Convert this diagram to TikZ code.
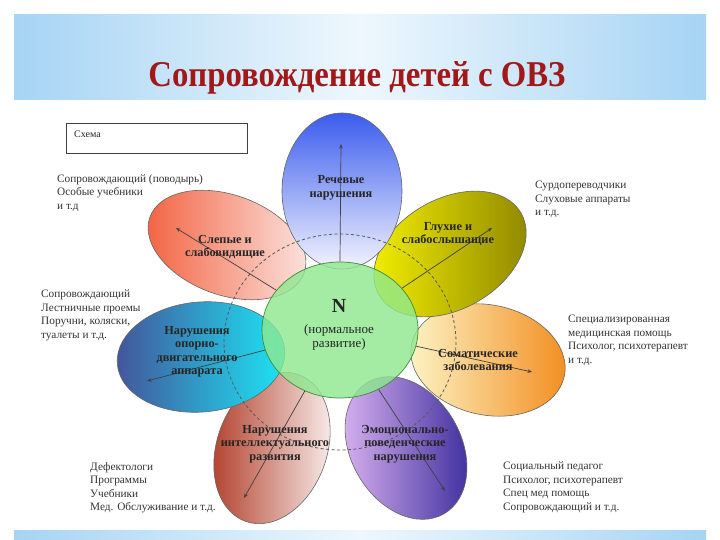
\documentclass[tikz,border=0pt]{standalone}
\usepackage{fontspec}
\setmainfont{Liberation Serif}
\usepackage{graphicx}
\usetikzlibrary{arrows.meta,shapes.geometric}
\definecolor{bannerEdge}{HTML}{A6D4F4}
\definecolor{bannerMid}{HTML}{EEF7FD}
\definecolor{titleRed}{HTML}{A01818}
\definecolor{redA}{HTML}{F2603E}
\definecolor{redB}{HTML}{FCE6E2}
\definecolor{blueA}{HTML}{3A5CEE}
\definecolor{blueB}{HTML}{F4F4FE}
\definecolor{yelA}{HTML}{F6F200}
\definecolor{yelB}{HTML}{8C8400}
\definecolor{orA}{HTML}{FDF6C8}
\definecolor{orB}{HTML}{F28C1E}
\definecolor{purA}{HTML}{DDB4F2}
\definecolor{purB}{HTML}{3A2C9C}
\definecolor{brA}{HTML}{FBF4F2}
\definecolor{brB}{HTML}{B03A26}
\definecolor{cyA}{HTML}{44549A}
\definecolor{cyB}{HTML}{1CE6F6}
\definecolor{grnF}{HTML}{8EE88E}
\definecolor{grnD}{HTML}{3C8C3C}
\begin{document}
\begin{tikzpicture}[x=1pt,y=-1pt,
  petal/.style={draw=black!60, line width=0.6pt},
  lbl/.style={font=\bfseries\fontsize{12.3}{13.5}\selectfont, align=center, text=black!85, inner sep=0pt},
  side/.style={font=\fontsize{11.3}{13.5}\selectfont, align=left, anchor=north west, text=black!80, inner sep=0pt},
  arr/.style={draw=black!75, line width=0.7pt, -{Stealth[length=4.5pt,width=3.5pt]}},
  dashring/.style={draw=black!65, line width=0.8pt, dash pattern=on 3pt off 2.5pt}
]
\useasboundingbox (0,0) rectangle (720,540);
\fill[white] (0,0) rectangle (720,540);
% banners
\shade[left color=bannerEdge, right color=bannerEdge, middle color=bannerMid] (14,15) rectangle (706,100);
\shade[left color=bannerEdge, right color=bannerEdge, middle color=bannerMid] (14,530) rectangle (706,540);
\node[anchor=base, text=titleRed, inner sep=0pt] (title) at (357,87)
  {\resizebox{417pt}{25pt}{\bfseries Сопровождение детей с ОВЗ}};
% schema box
\node[draw=black!75, line width=0.9pt, minimum width=181pt, minimum height=30pt, anchor=north west,
  inner sep=0pt] (schema) at (66,123) {};
\node[anchor=west, font=\fontsize{10}{12}\selectfont, text=black!85, inner sep=0pt] (schemaT) at (74,134) {Схема};
% petals
\shadedraw[petal, left color=purA, right color=purB, shift={(406,448)}, rotate=-60] (0,0) ellipse [x radius=76, y radius=55];
\shadedraw[petal, left color=brB, right color=brA, shift={(272,448)}, rotate=70] (0,0) ellipse [x radius=78, y radius=55];
\shadedraw[petal, left color=cyA, right color=cyB, shift={(201,357)}, rotate=5] (0,0) ellipse [x radius=84, y radius=55];
\shadedraw[petal, left color=redA, right color=redB, shift={(227,245)}, rotate=-20] (0,0) ellipse [x radius=82, y radius=50];
\shadedraw[petal, left color=orA, right color=orB, shift={(488,360)}, rotate=-12] (0,0) ellipse [x radius=78, y radius=55];
\shadedraw[petal, left color=yelA, right color=yelB, shift={(450,254)}, rotate=30] (0,0) ellipse [x radius=82, y radius=55];
\shadedraw[petal, top color=blueA, bottom color=blueB, shift={(342,191)}] (0,0) ellipse [x radius=60, y radius=78];
% dashed ring
\draw[dashring] (340,342) ellipse [x radius=116, y radius=108];
% centre
\node[ellipse, minimum width=156pt, minimum height=136pt, inner sep=0pt, fill=grnF, fill opacity=0.8,
  draw=grnD, line width=0.7pt] (c) at (340,330) {};
\node[font=\bfseries\fontsize{20}{20}\selectfont, text=black!85, inner sep=0pt] (N) at (339,306) {N};
\node[font=\fontsize{13}{14}\selectfont, text=black!85, align=center, inner sep=0pt] (Nt) at (339,337) {(нормальное\\развитие)};
% arrow targets
\coordinate (tRed) at (176,228);
\coordinate (tBlue) at (341,144);
\coordinate (tYel) at (492,228);
\coordinate (tOr) at (532,372);
\coordinate (tPur) at (445,491);
\coordinate (tBr) at (244,498);
\coordinate (tCy) at (147,381);
\draw[arr] (c.148) -- (tRed);
\draw[arr] (c.90) -- (tBlue);
\draw[arr] (c.34) -- (tYel);
\draw[arr] (c.-12) -- (tOr);
\draw[arr] (c.-57) -- (tPur);
\draw[arr] (c.240) -- (tBr);
\draw[arr] (c.195) -- (tCy);
% petal labels
\node[lbl] (lRed) at (225,247) {Слепые и\\слабовидящие};
\node[lbl] (lBlue) at (341,188) {Речевые\\нарушения};
\node[lbl] (lYel) at (448,234) {Глухие и\\слабослышащие};
\node[lbl] (lOr) at (478,360) {Соматические\\заболевания};
\node[lbl] (lPur) at (405,444) {Эмоционально-\\поведенческие\\нарушения};
\node[lbl] (lBr) at (275,444) {Нарушения\\интеллектуального\\развития};
\node[lbl] (lCy) at (197,352) {Нарушения\\опорно-\\двигательного\\аппарата};
% side texts
\node[side] (sTL) at (57,174) {Сопровождающий (поводырь)\\Особые учебники\\и т.д};
\node[side] (sTR) at (535,181) {Сурдопереводчики\\Слуховые аппараты\\и т.д.};
\node[side] (sML) at (41,290) {Сопровождающий\\Лестничные проемы\\Поручни, коляски,\\туалеты и т.д.};
\node[side] (sMR) at (568,315) {Специализированная\\медицинская помощь\\Психолог, психотерапевт\\и т.д.};
\node[side] (sBL) at (90,462) {Дефектологи\\Программы\\Учебники\\Мед. Обслуживание и т.д.};
\node[side] (sBR) at (503,462) {Социальный педагог\\Психолог, психотерапевт\\Спец мед помощь\\Сопровождающий  и т.д.};
\end{tikzpicture}
\end{document}
